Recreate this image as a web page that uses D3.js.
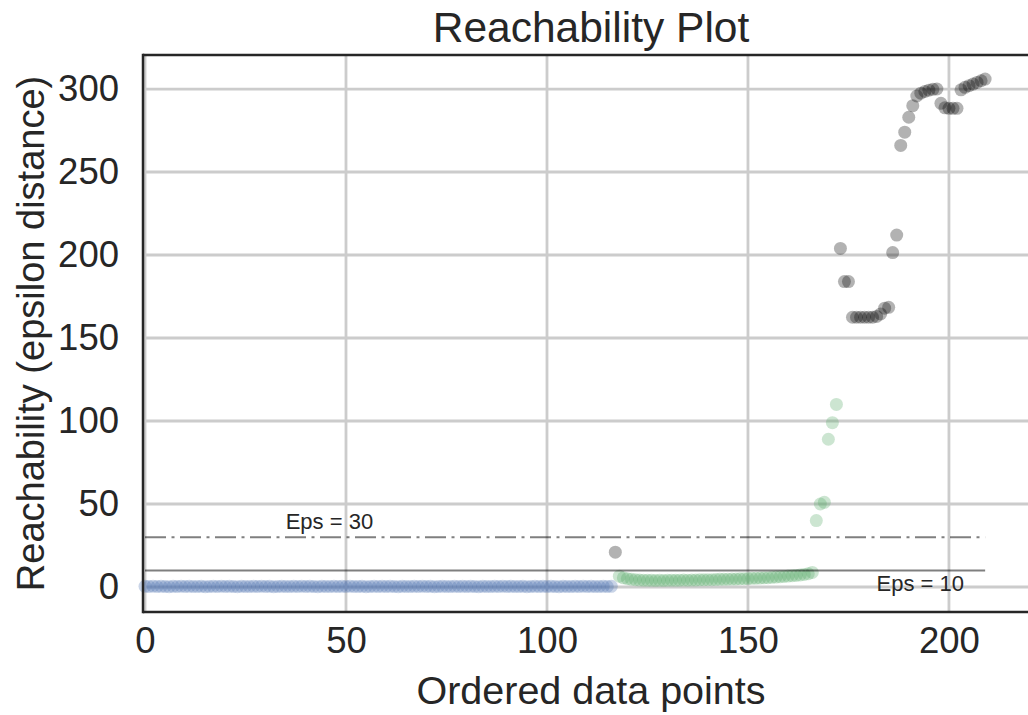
<!DOCTYPE html>
<html>
<head>
<meta charset="utf-8">
<script src="https://cdn.jsdelivr.net/npm/d3@7"></script>
<style>
  html, body { margin: 0; padding: 0; background: #ffffff; }
  svg { display: block; font-family: "Liberation Sans", Arial, "DejaVu Sans", sans-serif; }
</style>
</head>
<body>
<svg id="chart" width="1028" height="715"></svg>
<script>
// Reachability distances in cluster order (OPTICS ordering)
const clusterA = [
  0.4, 0.3, 0.5, 0.3, 0.4, 0.3, 0.2, 0.4, 0.3, 0.5, 0.3, 0.4, 0.3, 0.3, 0.4, 0.2, 0.3, 0.4, 0.3, 0.5,
  0.3, 0.4, 0.3, 0.2, 0.4, 0.3, 0.3, 0.4, 0.3, 0.5, 0.3, 0.4, 0.2, 0.3, 0.4, 0.3, 0.3, 0.4, 0.3, 0.5,
  0.3, 0.4, 0.3, 0.2, 0.4, 0.3, 0.3, 0.4, 0.3, 0.4, 0.3, 0.5, 0.3, 0.3, 0.4, 0.2, 0.3, 0.4, 0.3, 0.4,
  0.3, 0.4, 0.3, 0.2, 0.4, 0.3, 0.3, 0.4, 0.3, 0.5, 0.3, 0.4, 0.2, 0.3, 0.4, 0.3, 0.3, 0.4, 0.3, 0.4,
  0.3, 0.4, 0.3, 0.2, 0.4, 0.3, 0.3, 0.4, 0.3, 0.5, 0.3, 0.4, 0.3, 0.3, 0.4, 0.2, 0.3, 0.4, 0.3, 0.4,
  0.3, 0.4, 0.3, 0.2, 0.4, 0.3, 0.3, 0.4, 0.3, 0.5, 0.3, 0.4, 0.3, 0.3, 0.4, 0.3, 0.4
];
const clusterB = [
  6.5, 5.5, 5.0, 4.6, 4.4, 4.2, 4.1, 4.0, 4.0, 3.9, 4.0, 3.9, 4.0, 4.1, 4.0, 4.1, 4.2, 4.1, 4.2, 4.2,
  4.3, 4.3, 4.4, 4.4, 4.5, 4.6, 4.6, 4.7, 4.8, 4.8, 4.9, 5.0, 5.1, 5.2, 5.3, 5.4, 5.5, 5.6, 5.8, 6.0,
  6.2, 6.4, 6.6, 6.8, 7.0, 7.3, 7.6, 8.0, 8.8,
  40, 50, 51, 89, 99, 110
];
const noiseA = [21];
const noiseB = [
  204, 184, 184, 162.5, 162.5, 162.5, 162.5, 162.5, 162.5, 163, 164.5, 168, 168.5, 201.5, 212,
  266, 274, 283, 290, 295.8, 297.5, 298.5, 299.3, 299.8, 300, 291.4, 288.7, 288.4, 288.4, 288.4,
  299.5, 301, 302, 303, 304, 305, 306
];
// Runs of labels along the ordering: [label, count]
const labelRuns = [[0, clusterA.length], [-1, noiseA.length], [1, clusterB.length], [-1, noiseB.length]];
const reachability = [...clusterA, ...noiseA, ...clusterB, ...noiseB];

const epsLines = [
  { eps: 10, dash: null, label: "Eps = 10", tx: 182, ty: -2.5 },
  { eps: 30, dash: "21,5.5,3,5.5", label: "Eps = 30", tx: 35, ty: 35 }
];
const xTicks = [0, 50, 100, 150, 200];
const yTicks = [0, 50, 100, 150, 200, 250, 300];

const colors = { 0: "#4C72B0", 1: "#55A868", "-1": "#000000" };

(function draw() {
  // Build the points with their ordering position and label
  const points = [];
  let i = 0;
  labelRuns.forEach(([lab, n]) => {
    for (let k = 0; k < n; k++, i++) points.push({ x: i, r: reachability[i], label: lab });
  });

  const svg = d3.select("#chart");
  const mLeft = 143, mTop = 55, mBottom = 612, mRight = 1039;

  const x = d3.scaleLinear().domain([-0.5, 222.4]).range([mLeft, mRight]);
  const y = d3.scaleLinear().domain([-15.06, 320.5]).range([mBottom, mTop]);

  const ink = "#262626";

  // Grid
  const grid = svg.append("g");
  grid.selectAll("line.gx").data(xTicks).join("line").attr("class", "gx")
    .attr("x1", d => x(d)).attr("x2", d => x(d))
    .attr("y1", mTop).attr("y2", mBottom)
    .attr("stroke", "#cccccc").attr("stroke-width", 2.8);
  grid.selectAll("line.gy").data(yTicks).join("line").attr("class", "gy")
    .attr("x1", mLeft).attr("x2", mRight)
    .attr("y1", d => y(d)).attr("y2", d => y(d))
    .attr("stroke", "#cccccc").attr("stroke-width", 2.8);

  // Points: clusters first, noise on top
  const order = [0, 1, -1];
  const pg = svg.append("g");
  order.forEach(lab => {
    pg.append("g").selectAll("circle")
      .data(points.filter(p => p.label === lab))
      .join("circle")
      .attr("cx", d => x(d.x))
      .attr("cy", d => y(d.r))
      .attr("r", 6.5)
      .attr("fill", colors[lab])
      .attr("fill-opacity", 0.3);
  });

  // Eps reference lines spanning the ordering
  const lastIdx = reachability.length - 1;
  const lineGen = d3.line().x(d => x(d[0])).y(d => y(d[1]));
  epsLines.forEach(e => {
    svg.append("path")
      .attr("d", lineGen([[0, e.eps], [lastIdx, e.eps]]))
      .attr("fill", "none")
      .attr("stroke", "#000")
      .attr("stroke-opacity", 0.5)
      .attr("stroke-width", 2)
      .attr("stroke-dasharray", e.dash);
    svg.append("text")
      .attr("x", x(e.tx)).attr("y", y(e.ty))
      .attr("font-size", 22).attr("fill", ink)
      .text(e.label);
  });

  // Axes (labels only, no tick marks)
  const xAxis = svg.append("g").attr("transform", `translate(0,${mBottom})`)
    .call(d3.axisBottom(x).tickValues(xTicks).tickSize(0).tickPadding(15));
  const yAxis = svg.append("g").attr("transform", `translate(${mLeft},0)`)
    .call(d3.axisLeft(y).tickValues(yTicks).tickSize(0).tickPadding(24));
  [xAxis, yAxis].forEach(a => {
    a.select(".domain").remove();
    a.selectAll("text").attr("font-size", 36.5).attr("fill", ink)
      .attr("font-family", '"Liberation Sans", Arial, sans-serif');
  });
  xAxis.selectAll("text").attr("dy", "0.71em");

  // Spines
  svg.append("line").attr("x1", mLeft).attr("x2", mLeft).attr("y1", mTop - 1.2).attr("y2", mBottom + 1.2)
    .attr("stroke", ink).attr("stroke-width", 2.5);
  svg.append("line").attr("x1", mLeft).attr("x2", mRight).attr("y1", mBottom).attr("y2", mBottom)
    .attr("stroke", ink).attr("stroke-width", 2.5);
  svg.append("line").attr("x1", mLeft).attr("x2", mRight).attr("y1", mTop).attr("y2", mTop)
    .attr("stroke", ink).attr("stroke-width", 2.5);

  // Title and axis labels
  svg.append("text").attr("x", (mLeft + mRight) / 2).attr("y", 42)
    .attr("text-anchor", "middle").attr("font-size", 42.5).attr("fill", ink)
    .text("Reachability Plot");
  svg.append("text").attr("x", (mLeft + mRight) / 2).attr("y", 704)
    .attr("text-anchor", "middle").attr("font-size", 39.5).attr("fill", ink)
    .text("Ordered data points");
  svg.append("text")
    .attr("transform", `translate(44,${(mTop + mBottom) / 2}) rotate(-90)`)
    .attr("text-anchor", "middle").attr("font-size", 38).attr("fill", ink)
    .text("Reachability (epsilon distance)");
})();
</script>
</body>
</html>
